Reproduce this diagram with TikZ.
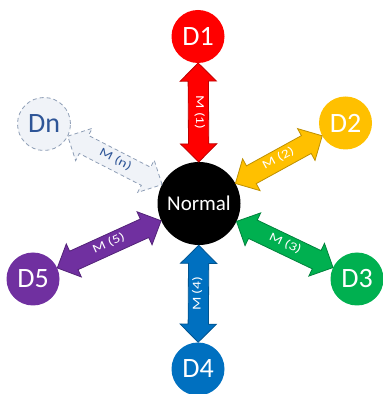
\documentclass[tikz,border=0pt]{standalone}
\usepackage{fontspec}
\setmainfont{Carlito}
\newfontfamily\linkfont[FakeStretch=1.3]{Carlito}
\usetikzlibrary{shapes.arrows}
\definecolor{mred}{RGB}{255,0,0}
\definecolor{mredline}{RGB}{190,0,0}
\definecolor{mgold}{RGB}{255,192,0}
\definecolor{mgoldline}{RGB}{190,144,0}
\definecolor{mgreen}{RGB}{0,176,80}
\definecolor{mgreenline}{RGB}{0,130,60}
\definecolor{mblue}{RGB}{0,112,192}
\definecolor{mblueline}{RGB}{0,84,144}
\definecolor{mpurple}{RGB}{112,48,160}
\definecolor{mpurpleline}{RGB}{83,35,120}
\definecolor{dnfill}{RGB}{240,243,248}
\definecolor{dnline}{RGB}{142,158,182}
\definecolor{dntext}{RGB}{46,85,151}

\tikzset{
  dnode/.style={circle, minimum size=53pt, inner sep=0pt, text=white,
    font=\fontsize{28}{28}\selectfont},
  link/.style={double arrow, double arrow head extend=8pt, double arrow tip angle=90,
    text height=7pt, text depth=2.5pt, inner ysep=5pt, inner xsep=0pt,
    line width=0.8pt, sloped, midway, text=white, font=\linkfont\fontsize{12}{12}\selectfont}
}

\begin{document}
\begin{tikzpicture}[x=1pt, y=1pt]
  \useasboundingbox (0,0) rectangle (383,394);
  % centre
  \node[circle, fill=black, minimum size=83pt, inner sep=0pt, text=white,
    font=\fontsize{21}{21}\selectfont] (normal) at (199,190.5) {Normal};
  % diseases
  \node[dnode, fill=mred] (d1) at (198,357.5) {D1};
  \node[dnode, fill=mgold] (d2) at (345.5,271) {D2};
  \node[dnode, fill=mgreen] (d3) at (357,115) {D3};
  \node[dnode, fill=mblue] (d4) at (198,25) {D4};
  \node[dnode, fill=mpurple] (d5) at (33,115) {D5};
  \node[dnode, fill=dnfill, draw=dnline, line width=0.8pt, dash pattern=on 4pt off 3pt,
    text=dntext] (dn) at (44,270) {Dn};
  % mappings
  \path (normal) -- (d1) node[link, fill=mred, draw=mredline, minimum height=99pt] (m1) {M (1)};
  \path (normal) -- (d2) node[link, fill=mgold, draw=mgoldline, minimum height=99pt] (m2) {M (2)};
  \path (normal) -- (d3) node[link, fill=mgreen, draw=mgreenline, minimum height=107pt] (m3) {M (3)};
  \path (d4) -- (normal) node[link, fill=mblue, draw=mblueline, minimum height=97pt] (m4) {M (4)};
  \path (normal) -- (d5) node[link, fill=mpurple, draw=mpurpleline, minimum height=114pt] (m5) {M (5)};
  \path (normal) -- (dn) node[link, fill=dnfill, draw=dnline, dash pattern=on 4pt off 3pt,
    text=dntext, minimum height=106pt] (mn) {M (n)};
\end{tikzpicture}
\end{document}
